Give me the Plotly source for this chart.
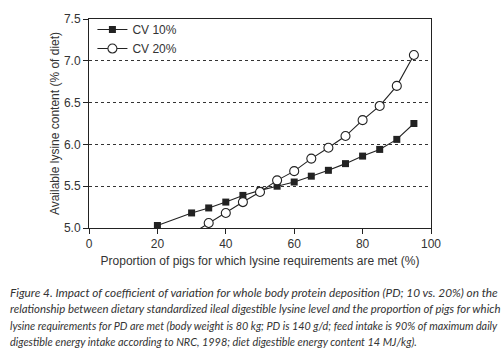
import plotly.graph_objects as go

x_cv10 = [20, 30, 35, 40, 45, 50, 55, 60, 65, 70, 75, 80, 85, 90, 95]
y_cv10 = [5.03, 5.18, 5.24, 5.31, 5.39, 5.45, 5.50, 5.55, 5.62, 5.69, 5.77, 5.86, 5.94, 6.06, 6.25]
x_cv20 = [30, 35, 40, 45, 50, 55, 60, 65, 70, 75, 80, 85, 90, 95]
y_cv20 = [4.93, 5.06, 5.18, 5.31, 5.43, 5.57, 5.68, 5.83, 5.96, 6.10, 6.29, 6.46, 6.70, 7.07]

x_ticks = [0, 20, 40, 60, 80, 100]
y_ticks = [5.0, 5.5, 6.0, 6.5, 7.0, 7.5]

caption_lines = [
    "Figure 4. Impact of coefficient of variation for whole body protein deposition (PD; 10 vs. 20%) on the",
    "relationship between dietary standardized ileal digestible lysine level and the proportion of pigs for which",
    "lysine requirements for PD are met (body weight is 80 kg; PD is 140 g/d; feed intake is 90% of maximum daily",
    "digestible energy intake according to NRC, 1998; diet digestible energy content 14 MJ/kg).",
]

ink = "#222222"
fig = go.Figure()
fig.add_trace(go.Scatter(
    x=x_cv10, y=y_cv10, name="CV 10%", mode="lines+markers",
    line=dict(color=ink, width=1.1),
    marker=dict(symbol="square", size=7, color=ink),
))
fig.add_trace(go.Scatter(
    x=x_cv20, y=y_cv20, name="CV 20%", mode="lines+markers",
    line=dict(color=ink, width=1.1),
    marker=dict(symbol="circle", size=9, color="white", line=dict(color=ink, width=1.1)),
))

axis_font = dict(family="Liberation Sans, Arial, sans-serif", size=12, color="#333333")
fig.update_xaxes(
    range=[0, 100], tickvals=x_ticks, ticktext=[str(v) for v in x_ticks],
    showline=True, linecolor=ink, linewidth=1, mirror=True,
    ticks="outside", ticklen=5, tickcolor=ink, showgrid=False, zeroline=False,
    tickfont=axis_font,
    title=dict(text="Proportion of pigs for which lysine requirements are met (%)", font=axis_font, standoff=6),
)
fig.update_yaxes(
    range=[5.0, 7.5], tickvals=y_ticks, ticktext=[f"{v:.1f}" for v in y_ticks],
    showline=True, linecolor=ink, linewidth=1, mirror=True,
    ticks="outside", ticklen=5, tickcolor=ink,
    showgrid=True, gridcolor="#333333", griddash="dot", gridwidth=1, zeroline=False,
    tickfont=axis_font,
    title=dict(text="Available lysine content (% of diet)", font=axis_font, standoff=1),
)

ypix = [293, 310, 327, 343]
sizes = [11.8, 11.4, 10.8, 10.9]
for line, p, s in zip(caption_lines, ypix, sizes):
    fig.add_annotation(
        text=line, xref="paper", yref="paper",
        x=(8 - 89) / 342, y=(228 - p) / 212, xanchor="left", yanchor="middle",
        showarrow=False,
        font=dict(family="Lato, Open Sans, sans-serif", size=s, color="#333333", style="italic"),
    )

fig.update_layout(
    width=501, height=350,
    margin=dict(l=89, r=70, t=16, b=122),
    paper_bgcolor="white", plot_bgcolor="white",
    legend=dict(x=0.01, y=(228 - 12) / 212, xanchor="left", yanchor="top",
                bgcolor="rgba(255,255,255,0)", font=axis_font,
                itemwidth=30, tracegroupgap=0),
    showlegend=True,
)

fig.write_html("out.html")
